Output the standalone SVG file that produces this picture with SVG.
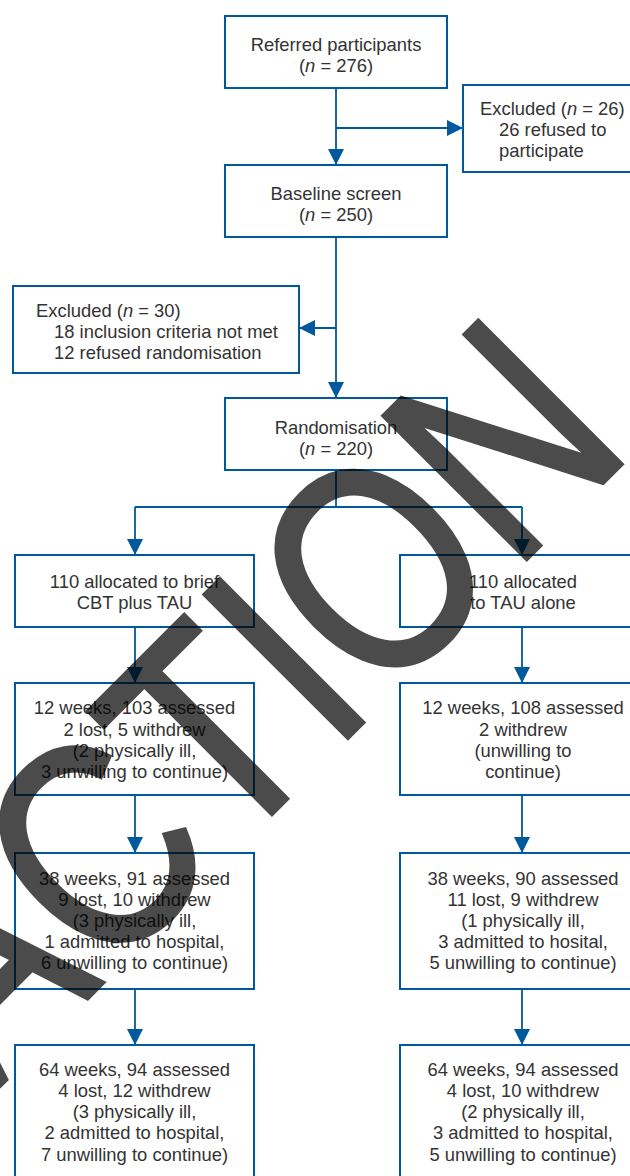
<svg xmlns="http://www.w3.org/2000/svg" width="630" height="1176" viewBox="0 0 630 1176">
<style>
.box{fill:#fff;stroke:#00599c;stroke-width:2}
.t{font-family:"Liberation Sans",Arial,sans-serif;font-size:18.4px;fill:#333}
.c{text-anchor:middle}
.ln{fill:none;stroke:#00599c;stroke-width:1.8}
.wm{font-family:"Liberation Sans",Arial,sans-serif;font-size:295px;fill:#000;stroke:#000;stroke-width:4;stroke-linejoin:miter}
</style>
<defs>
<marker id="ah" markerUnits="userSpaceOnUse" markerWidth="16" markerHeight="16" refX="16" refY="8" orient="auto">
<path d="M0,0 L16,8 L0,16 z" fill="#00599c"/>
</marker>
</defs>
<rect width="630" height="1176" fill="#fff"/>
<g id="connectors">
<path class="ln" d="M336,88 V165" marker-end="url(#ah)"/>
<path class="ln" d="M336,128 H463" marker-end="url(#ah)"/>
<path class="ln" d="M336,237 V398" marker-end="url(#ah)"/>
<path class="ln" d="M336,328 H299" marker-end="url(#ah)"/>
<path class="ln" d="M336,470 V507 M135,507 H522"/>
<path class="ln" d="M135,507 V555" marker-end="url(#ah)"/>
<path class="ln" d="M522,507 V555" marker-end="url(#ah)"/>
<path class="ln" d="M135,627 V683" marker-end="url(#ah)"/>
<path class="ln" d="M522,627 V683" marker-end="url(#ah)"/>
<path class="ln" d="M135,795 V853" marker-end="url(#ah)"/>
<path class="ln" d="M522,795 V853" marker-end="url(#ah)"/>
<path class="ln" d="M135,989 V1045" marker-end="url(#ah)"/>
<path class="ln" d="M522,989 V1045" marker-end="url(#ah)"/>
</g>
<g id="referred">
<rect class="box" x="225" y="16" width="222" height="72"/>
<text class="t c" x="336" y="51">Referred participants</text>
<text class="t c" x="336" y="72">(<tspan font-style="italic">n</tspan> = 276)</text>
</g>
<g id="excluded26">
<rect class="box" x="463" y="85" width="200" height="87"/>
<text class="t" x="480" y="115">Excluded (<tspan font-style="italic">n</tspan> = 26)</text>
<text class="t" x="499" y="136">26 refused to</text>
<text class="t" x="499" y="157">participate</text>
</g>
<g id="baseline">
<rect class="box" x="225" y="165" width="222" height="72"/>
<text class="t c" x="336" y="200">Baseline screen</text>
<text class="t c" x="336" y="221">(<tspan font-style="italic">n</tspan> = 250)</text>
</g>
<g id="excluded30">
<rect class="box" x="13" y="286" width="286" height="87"/>
<text class="t" x="36" y="317">Excluded (<tspan font-style="italic">n</tspan> = 30)</text>
<text class="t" x="54" y="337.5">18 inclusion criteria not met</text>
<text class="t" x="54" y="358.5">12 refused randomisation</text>
</g>
<g id="randomisation">
<rect class="box" x="225" y="398" width="222" height="72"/>
<text class="t c" x="336" y="433.5">Randomisation</text>
<text class="t c" x="336" y="454.5">(<tspan font-style="italic">n</tspan> = 220)</text>
</g>
<g id="cbt">
<rect class="box" x="15" y="555" width="239" height="72"/>
<text class="t c" x="134.5" y="587.5">110 allocated to brief</text>
<text class="t c" x="134.5" y="608.5">CBT plus TAU</text>
</g>
<g id="tau">
<rect class="box" x="400" y="555" width="245" height="72"/>
<text class="t c" x="523" y="587.5">110 allocated</text>
<text class="t c" x="523" y="608.5">to TAU alone</text>
</g>
<g id="cbt12">
<rect class="box" x="15" y="683" width="239" height="112"/>
<text class="t c" x="134.5" y="714">12 weeks, 103 assessed</text>
<text class="t c" x="134.5" y="735.5">2 lost, 5 withdrew</text>
<text class="t c" x="134.5" y="757">(2 physically ill,</text>
<text class="t c" x="134.5" y="778">3 unwilling to continue)</text>
</g>
<g id="tau12">
<rect class="box" x="400" y="683" width="245" height="112"/>
<text class="t c" x="523" y="714">12 weeks, 108 assessed</text>
<text class="t c" x="523" y="735.5">2 withdrew</text>
<text class="t c" x="523" y="757">(unwilling to</text>
<text class="t c" x="523" y="778">continue)</text>
</g>
<g id="cbt38">
<rect class="box" x="15" y="853" width="239" height="136"/>
<text class="t c" x="134.5" y="885">38 weeks, 91 assessed</text>
<text class="t c" x="134.5" y="906">9 lost, 10 withdrew</text>
<text class="t c" x="134.5" y="927">(3 physically ill,</text>
<text class="t c" x="134.5" y="948">1 admitted to hospital,</text>
<text class="t c" x="134.5" y="969">6 unwilling to continue)</text>
</g>
<g id="tau38">
<rect class="box" x="400" y="853" width="245" height="136"/>
<text class="t c" x="523" y="885">38 weeks, 90 assessed</text>
<text class="t c" x="523" y="906">11 lost, 9 withdrew</text>
<text class="t c" x="523" y="927">(1 physically ill,</text>
<text class="t c" x="523" y="948">3 admitted to hosital,</text>
<text class="t c" x="523" y="969">5 unwilling to continue)</text>
</g>
<g id="cbt64">
<rect class="box" x="15" y="1045" width="239" height="145"/>
<text class="t c" x="134.5" y="1076">64 weeks, 94 assessed</text>
<text class="t c" x="134.5" y="1097">4 lost, 12 withdrew</text>
<text class="t c" x="134.5" y="1118">(3 physically ill,</text>
<text class="t c" x="134.5" y="1139">2 admitted to hospital,</text>
<text class="t c" x="134.5" y="1160.5">7 unwilling to continue)</text>
</g>
<g id="tau64">
<rect class="box" x="400" y="1045" width="245" height="145"/>
<text class="t c" x="523" y="1076">64 weeks, 94 assessed</text>
<text class="t c" x="523" y="1097">4 lost, 10 withdrew</text>
<text class="t c" x="523" y="1118">(2 physically ill,</text>
<text class="t c" x="523" y="1139">3 admitted to hospital,</text>
<text class="t c" x="523" y="1160.5">5 unwilling to continue)</text>
</g>
<g id="watermark" opacity="0.7">
<text class="wm" text-anchor="end" transform="translate(636,450) rotate(-45) scale(0.82,1)">RETRACTION</text>
</g>
</svg>
